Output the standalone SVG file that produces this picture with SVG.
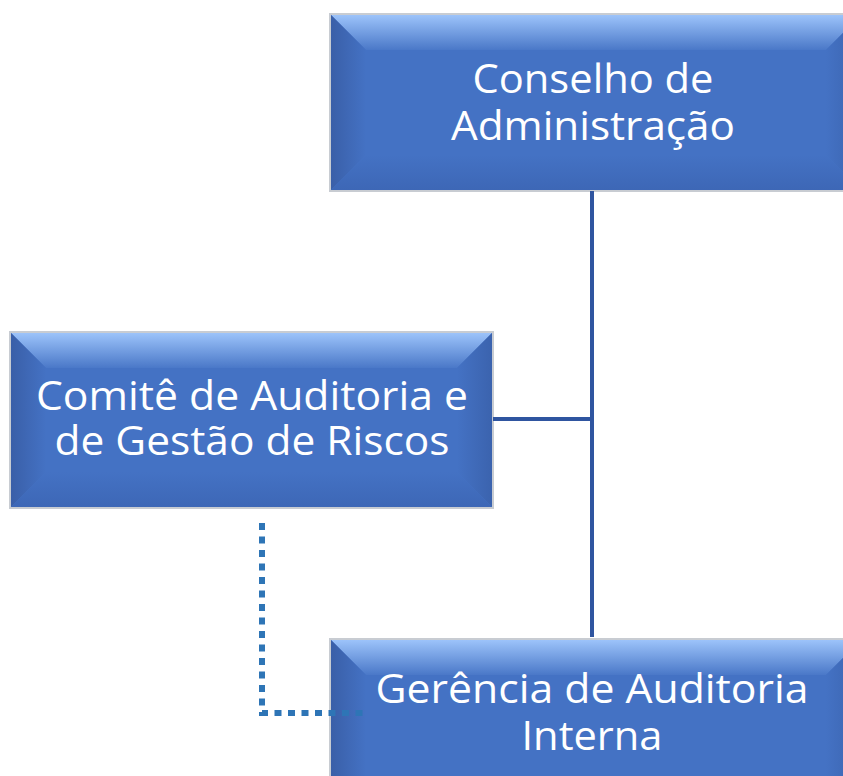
<svg xmlns="http://www.w3.org/2000/svg" width="843" height="776" viewBox="0 0 843 776">
<defs>
<linearGradient id="gTop" x1="0" y1="0" x2="0" y2="1"><stop offset="0" stop-color="#9CC3FA"/><stop offset="1" stop-color="#4A78C8"/></linearGradient>
<linearGradient id="gLeft" x1="0" y1="0" x2="1" y2="0"><stop offset="0" stop-color="#3A5FA8"/><stop offset="1" stop-color="#4472C4"/></linearGradient>
<linearGradient id="gRight" x1="1" y1="0" x2="0" y2="0"><stop offset="0" stop-color="#3B63AE"/><stop offset="1" stop-color="#4472C4"/></linearGradient>
<linearGradient id="gBot" x1="0" y1="1" x2="0" y2="0"><stop offset="0" stop-color="#3D67B6"/><stop offset="1" stop-color="#4472C4"/></linearGradient>
</defs>
<style>
.face{fill:#4472C4}
.edge{fill:none;stroke:#C8CCD2;stroke-width:2}
.lbl{font-family:"Open Sans","Liberation Sans",sans-serif;font-size:40px;fill:#FFFFFF;text-anchor:middle}
.conn{fill:none;stroke:#2F55A0;stroke-width:4}
.dot{fill:none;stroke:#2E75B6;stroke-width:6;stroke-dasharray:7 6.5}
</style>
<rect width="843" height="776" fill="#FFFFFF"/>
<g id="node-conselho">
<rect class="edge" x="330" y="14" width="532" height="177"/>
<rect class="face" x="331" y="15" width="530" height="175"/>
<polygon points="331,15 861,15 826,50 366,50" fill="url(#gTop)"/>
<polygon points="331,15 366,50 366,155 331,190" fill="url(#gLeft)"/>
<polygon points="861,15 826,50 826,155 861,190" fill="url(#gRight)"/>
<polygon points="331,190 366,155 826,155 861,190" fill="url(#gBot)"/>
<text class="lbl"><tspan x="593" y="93" textLength="241" lengthAdjust="spacingAndGlyphs">Conselho de</tspan><tspan x="593" y="140" textLength="284" lengthAdjust="spacingAndGlyphs">Administração</tspan></text>
</g>
<g id="node-comite">
<rect class="edge" x="10" y="332" width="483" height="176"/>
<rect class="face" x="11" y="333" width="481" height="174"/>
<polygon points="11,333 492,333 457,368 46,368" fill="url(#gTop)"/>
<polygon points="11,333 46,368 46,472 11,507" fill="url(#gLeft)"/>
<polygon points="492,333 457,368 457,472 492,507" fill="url(#gRight)"/>
<polygon points="11,507 46,472 457,472 492,507" fill="url(#gBot)"/>
<text class="lbl"><tspan x="252" y="410" textLength="432" lengthAdjust="spacingAndGlyphs">Comitê de Auditoria e</tspan><tspan x="252" y="455" textLength="395" lengthAdjust="spacingAndGlyphs">de Gestão de Riscos</tspan></text>
</g>
<g id="node-gerencia">
<rect class="edge" x="330" y="639" width="532" height="182"/>
<rect class="face" x="331" y="640" width="530" height="180"/>
<polygon points="331,640 861,640 826,675 366,675" fill="url(#gTop)"/>
<polygon points="331,640 366,675 366,785 331,820" fill="url(#gLeft)"/>
<polygon points="861,640 826,675 826,785 861,820" fill="url(#gRight)"/>
<text class="lbl"><tspan x="592" y="703" textLength="433" lengthAdjust="spacingAndGlyphs">Gerência de Auditoria</tspan><tspan x="592" y="750" textLength="141" lengthAdjust="spacingAndGlyphs">Interna</tspan></text>
</g>
<g id="connectors">
<line class="conn" x1="592" y1="191" x2="592" y2="637"/>
<line class="conn" x1="493" y1="419" x2="592" y2="419"/>
<polyline class="dot" points="262,523 262,713 368,713"/>
</g>
</svg>
